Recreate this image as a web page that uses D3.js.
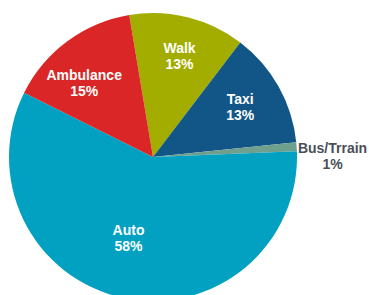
<!DOCTYPE html>
<html>
<head>
<meta charset="utf-8">
<script src="https://cdn.jsdelivr.net/npm/d3@7"></script>
<style>
	body { margin: 0; background: #fff; }
	svg { display: block; font-family: "Liberation Sans", Arial, sans-serif; }
</style>
</head>
<body>
<div id="chart"></div>
<script>

var categories = ['Walk', 'Taxi', 'Bus/Trrain', 'Auto', 'Ambulance'];
var values = [13, 13, 1, 58, 15];
var colors = ['#a2ad00', '#125688', '#6f9f8d', '#02a1c1', '#da2626'];

function createChart() {

	var svgWidth = 369;
	var svgHeight = 295;
	var radius = 144;
	var cx = 153, cy = 157;
	var startAngle = -9.5 * Math.PI / 180;

	// small hand nudges so labels sit where the original "best fit" put them
	var nudge = {
		'Walk': [2, -2],
		'Taxi': [-2, 0],
		'Bus/Trrain': [0, 12],
		'Auto': [-7, -1],
		'Ambulance': [-8, 8]
	};

	var data = categories.map(function(c, i) { return {label: c, count: values[i]}; });
	var total = d3.sum(values);

	var color = d3.scaleOrdinal().domain(categories).range(colors);

	var pie = d3.pie().sort(null)
		.startAngle(startAngle).endAngle(startAngle + 2 * Math.PI)
		.value(function(d) { return d.count; });

	var arc = d3.arc().outerRadius(radius).innerRadius(0);

	var svg = d3.select('#chart').append('svg')
		.attr('width', svgWidth)
		.attr('height', svgHeight)
		.append('g')
		.attr('transform', 'translate(' + cx + ',' + cy + ')');

	var g = svg.selectAll('.arc').data(pie(data)).enter().append('g').attr('class', 'arc');

	g.append('path').attr('d', arc).style('fill', function(d) { return color(d.data.label); });

	g.each(function(d) {
		var pct = Math.round(100 * d.data.count / total);
		var mid = (d.startAngle + d.endAngle) / 2;
		var r, fill;
		if (pct < 5) {
			r = radius + 36; fill = '#4a4f57';   // small slice: label outside
		} else if (pct > 50) {
			r = radius * 0.58; fill = '#fff';
		} else {
			r = radius * 0.71; fill = '#fff';
		}
		var n = nudge[d.data.label] || [0, 0];
		var x = Math.sin(mid) * r + n[0];
		var y = -Math.cos(mid) * r + n[1];
		var t = d3.select(this).append('text')
			.attr('text-anchor', 'middle')
			.attr('font-size', '14px')
			.attr('font-weight', 'bold')
			.style('fill', fill);
		t.append('tspan').attr('x', x).attr('y', y - 3).text(d.data.label);
		t.append('tspan').attr('x', x).attr('y', y + 13).text(pct + '%');
	});
}

createChart();
</script>
</body>
</html>
